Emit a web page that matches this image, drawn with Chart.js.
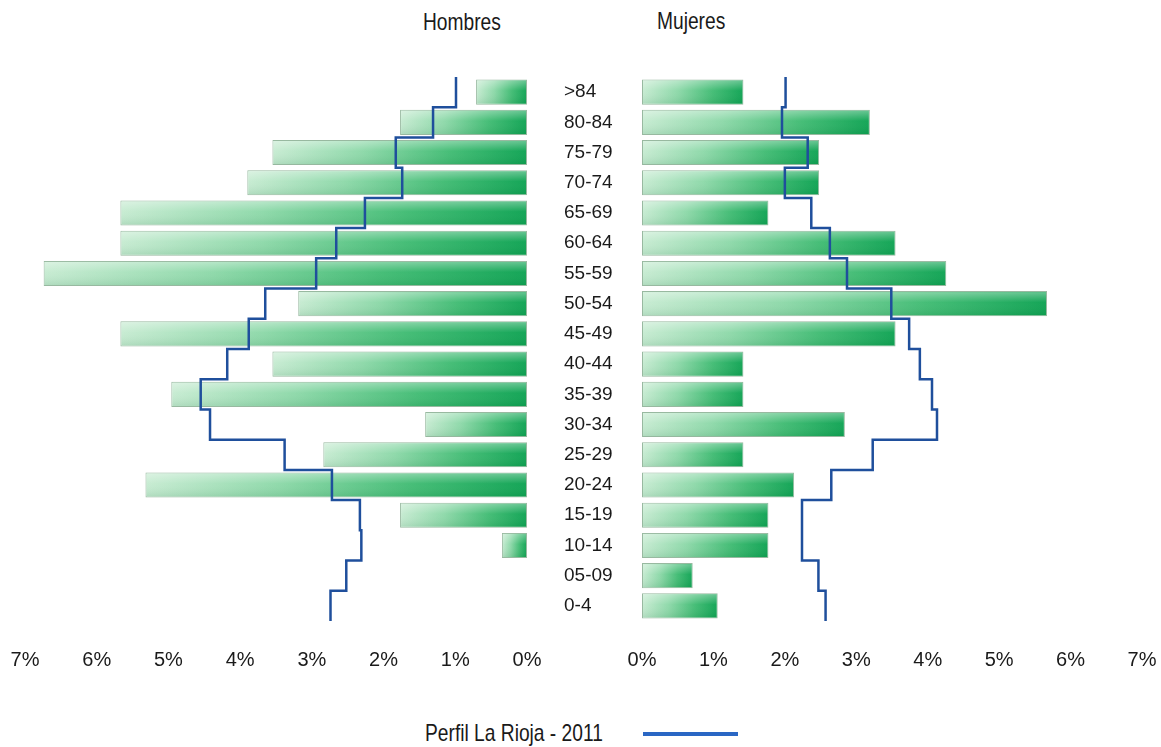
<!DOCTYPE html>
<html>
<head>
<meta charset="utf-8">
<script src="https://cdn.jsdelivr.net/npm/chart.js@4.4.1/dist/chart.umd.min.js"></script>
<style>
  body { margin: 0; background: #fff; font-family: 'Liberation Sans', Arial, sans-serif; color: #1a1a1a; }
  #page { position: relative; width: 1161px; height: 747px; overflow: hidden; }
  .txt { position: absolute; font-size: 24px; line-height: 24px; white-space: nowrap; transform: scaleX(0.8); transform-origin: 0 0; }
  #left-wrap { position: absolute; left: 0; top: 0; width: 630px; height: 690px; }
  #right-wrap { position: absolute; left: 620px; top: 0; width: 541px; height: 690px; }
  #legend-line { position: absolute; left: 643px; top: 732px; width: 95px; height: 4px; background: #2a67c4; }
</style>
</head>
<body>
<div id="page">
  <div class="txt" style="left:423px; top:10px;">Hombres</div>
  <div class="txt" style="left:657px; top:9px;">Mujeres</div>
  <div id="left-wrap"><canvas id="leftChart"></canvas></div>
  <div id="right-wrap"><canvas id="rightChart"></canvas></div>
  <div class="txt" style="left:425px; top:721px;">Perfil La Rioja - 2011</div>
  <div id="legend-line"></div>
</div>
<script>
// age groups, oldest first (top of the pyramid)
const ageGroups = ['>84', '80-84', '75-79', '70-74', '65-69', '60-64', '55-59', '50-54', '45-49',
                   '40-44', '35-39', '30-34', '25-29', '20-24', '15-19', '10-14', '05-09', '0-4'];

// % of population per age group
const menValues   = [0.71, 1.77, 3.55, 3.90, 5.67, 5.67, 6.74, 3.19, 5.67, 3.55, 4.96, 1.42, 2.84, 5.32, 1.77, 0.35, 0, 0];
const womenValues = [1.42, 3.19, 2.48, 2.48, 1.77, 3.55, 4.26, 5.67, 3.55, 1.42, 1.42, 2.84, 1.42, 2.13, 1.77, 1.77, 0.71, 1.06];

// reference profile La Rioja 2011
const menProfile   = [0.99, 1.31, 1.83, 1.74, 2.26, 2.66, 2.94, 3.65, 3.88, 4.18, 4.55, 4.42, 3.38, 2.72, 2.33, 2.31, 2.52, 2.74];
const womenProfile = [2.01, 1.96, 2.32, 2.00, 2.37, 2.63, 2.87, 3.49, 3.74, 3.89, 4.06, 4.13, 3.23, 2.65, 2.24, 2.24, 2.47, 2.57];

const xTicks = [0, 1, 2, 3, 4, 5, 6, 7];
const profileLabel = 'Perfil La Rioja - 2011';

const FONT = "'Liberation Sans', Arial, sans-serif";
const BAR_PCT = 0.83;

// turns the profile into a stepped outline: one vertical run per age group
function stepPoints(values) {
    const pts = [];
    values.forEach((v, i) => {
        pts.push({ x: v, y: i - 0.5 });
        pts.push({ x: v, y: i + 0.5 });
    });
    return pts;
}

function barFill(ctx) {
    const chart = ctx.chart;
    const area = chart.chartArea;
    if (!area || ctx.type !== 'data') return '#3fbf74';
    const xs = chart.scales.x;
    const a = xs.getPixelForValue(0);
    const b = xs.getPixelForValue(ctx.raw);
    const left = Math.min(a, b), right = Math.max(a, b);
    if (right - left < 1) return '#3fbf74';
    const g = chart.ctx.createLinearGradient(left, 0, right, 0);
    g.addColorStop(0, '#c6ebd1');
    g.addColorStop(0.35, '#8cd8a8');
    g.addColorStop(0.7, '#3fbb72');
    g.addColorStop(1, '#0ca251');
    return g;
}

// light on top, darker at the bottom of each bar
const sheen = {
    id: 'sheen',
    afterDatasetDraw(chart, args) {
        if (args.meta.type !== 'bar') return;
        const c = chart.ctx;
        args.meta.data.forEach(bar => {
            const { x, y, base, height } = bar.getProps(['x', 'y', 'base', 'height'], true);
            const left = Math.min(x, base), w = Math.abs(x - base);
            if (w < 3) return;
            const top = y - height / 2;
            const g = c.createLinearGradient(0, top, 0, top + height);
            g.addColorStop(0, 'rgba(255,255,255,0.4)');
            g.addColorStop(0.45, 'rgba(255,255,255,0.04)');
            g.addColorStop(1, 'rgba(0,90,40,0.12)');
            c.save();
            c.fillStyle = g;
            c.fillRect(left + 1, top + 1, w - 2, height - 2);
            c.restore();
        });
    }
};

function makeChart(canvasId, values, profile, isLeft) {
    const yScale = {
        type: 'category',
        offset: true,
        position: isLeft ? 'right' : 'left',
        display: isLeft,
        grid: { display: false, drawTicks: false },
        border: { display: false },
        ticks: {
            padding: 37,
            color: '#1a1a1a',
            font: { family: FONT, size: 19 }
        }
    };
    if (isLeft) yScale.afterFit = scale => { scale.width = 103; };

    return new Chart(document.getElementById(canvasId), {
        type: 'bar',
        data: {
            labels: ageGroups,
            datasets: [
                {
                    type: 'bar',
                    label: isLeft ? 'Hombres' : 'Mujeres',
                    data: values,
                    yAxisID: 'y',
                    grouped: false,
                    backgroundColor: barFill,
                    borderColor: '#98b9a0',
                    borderWidth: 1,
                    borderSkipped: false,
                    barPercentage: BAR_PCT,
                    categoryPercentage: 1,
                    order: 1
                },
                {
                    type: 'line',
                    label: profileLabel,
                    data: stepPoints(profile),
                    yAxisID: 'y2',
                    borderColor: '#1f4f9c',
                    borderWidth: 2.5,
                    pointRadius: 0,
                    tension: 0,
                    fill: false,
                    order: 0
                }
            ]
        },
        options: {
            indexAxis: 'y',
            responsive: true,
            maintainAspectRatio: false,
            animation: false,
            layout: {
                padding: isLeft
                    ? { top: 77, left: 25, right: 0, bottom: 0 }
                    : { top: 77, left: 22, right: 19, bottom: 0 }
            },
            plugins: {
                legend: { display: false },
                tooltip: { enabled: false }
            },
            scales: {
                x: {
                    type: 'linear',
                    min: 0,
                    max: 7,
                    reverse: isLeft,
                    afterBuildTicks: scale => { scale.ticks = xTicks.map(v => ({ value: v })); },
                    afterFit: scale => {
                        scale.height = 69;
                        scale.paddingLeft = 0;
                        scale.paddingRight = 0;
                    },
                    grid: { display: false, drawTicks: false },
                    border: { display: false },
                    ticks: {
                        padding: 27,
                        color: '#1a1a1a',
                        font: { family: FONT, size: 20 },
                        callback: v => v + '%'
                    }
                },
                y: yScale,
                y2: {
                    type: 'linear',
                    offset: false,
                    min: -0.5,
                    max: ageGroups.length - 0.5,
                    reverse: true,
                    display: false
                }
            }
        },
        plugins: [sheen]
    });
}

makeChart('leftChart', menValues, menProfile, true);
makeChart('rightChart', womenValues, womenProfile, false);
</script>
</body>
</html>
